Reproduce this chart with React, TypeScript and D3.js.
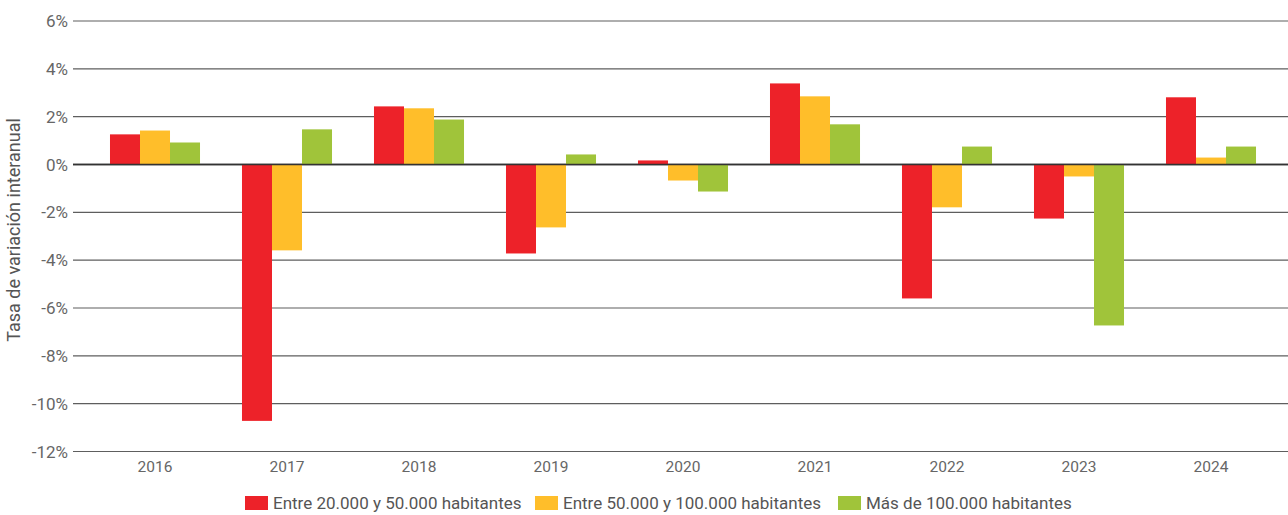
import React from 'react';
import * as d3 from 'd3';

const years = ['2016', '2017', '2018', '2019', '2020', '2021', '2022', '2023', '2024'];
const seriesNames = ['Entre 20.000 y 50.000 habitantes', 'Entre 50.000 y 100.000 habitantes', 'Más de 100.000 habitantes'];
const small = [1.26, -10.72, 2.43, -3.72, 0.17, 3.39, -5.6, -2.26, 2.81];
const medium = [1.42, -3.59, 2.35, -2.63, -0.67, 2.85, -1.79, -0.5, 0.29];
const large = [0.92, 1.47, 1.88, 0.42, -1.13, 1.68, 0.75, -6.73, 0.75];
const yTicks = [6, 4, 2, 0, -2, -4, -6, -8, -10, -12];
const colors = ['#ED2229', '#FFBE2A', '#A0C43A'];

const W = 1288;
const H = 515;
const font = 'Roboto, sans-serif';

export default function App() {
  const series = [small, medium, large];

  const y = d3.scaleLinear().domain([-12, 6]).range([451.5, 21]);
  const x = d3.scaleBand().domain(years).range([89, 1277]).paddingInner(0.318).paddingOuter(0.159);
  const xs = d3.scaleBand().domain(['0', '1', '2']).range([0, x.bandwidth()]);

  // legend layout
  const legendX = [245, 535, 838];

  return (
    <svg width={W} height={H} style={{ position: 'absolute', left: 0, top: 0, background: '#fff' }}>
      {/* gridlines */}
      {yTicks.map(t => (
        <g key={t}>
          <line x1={73} x2={W} y1={y(t)} y2={y(t)} stroke={t === 0 ? '#333' : '#5e5e5e'} strokeWidth={t === 0 ? 1.6 : 1.2} />
          <text x={68} y={y(t)} dy="0.36em" textAnchor="end" fontFamily={font} fontSize={17} fill="#666">{t}%</text>
        </g>
      ))}

      {/* bars */}
      {years.map((yr, i) => (
        <g key={yr} transform={`translate(${x(yr)},0)`}>
          {series.map((s, j) => {
            const v = s[i];
            return (
              <rect key={j} x={xs(String(j))} width={xs.bandwidth()}
                y={Math.min(y(v), y(0))} height={Math.abs(y(v) - y(0))} fill={colors[j]} />
            );
          })}
        </g>
      ))}
      <line x1={73} x2={W} y1={y(0)} y2={y(0)} stroke="#333" strokeWidth={1.6} />

      {/* x labels */}
      {years.map(yr => (
        <text key={yr} x={(x(yr) as number) + x.bandwidth() / 2} y={472} textAnchor="middle" fontFamily={font} fontSize={15.5} fill="#666">{yr}</text>
      ))}

      {/* y title */}
      <text transform={`translate(20,${230}) rotate(-90)`} textAnchor="middle" fontFamily={font} fontSize={18} fill="#555">Tasa de variación interanual</text>

      {/* legend */}
      {seriesNames.map((n, j) => (
        <g key={n} transform={`translate(${legendX[j]},496)`}>
          <rect width={23} height={14} fill={colors[j]} />
          <text x={28} y={13} fontFamily={font} fontSize={17} fill="#555">{n}</text>
        </g>
      ))}
    </svg>
  );
}
